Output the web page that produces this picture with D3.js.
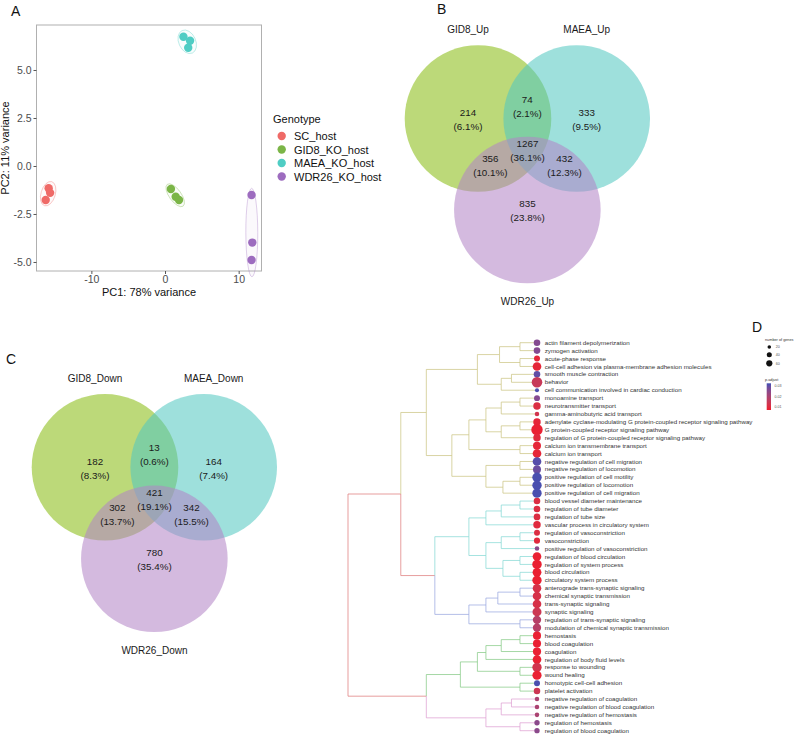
<!DOCTYPE html>
<html>
<head>
<meta charset="utf-8">
<script src="https://cdnjs.cloudflare.com/ajax/libs/d3/7.8.5/d3.min.js"></script>
<style>
	body { margin: 0; background: #fff; }
	svg { font-family: "Liberation Sans", Arial, sans-serif; }
</style>
</head>
<body>
<svg id="fig" width="800" height="736"></svg>
<script>

// ---- panel A : PCA ----
var pcaGroups   = ['SC_host', 'GID8_KO_host', 'MAEA_KO_host', 'WDR26_KO_host'];
var pcaColors   = ['#ef6a67', '#7bb547', '#4fcdc4', '#9d6cbf'];
var sampleGroup = [0, 0, 0, 1, 1, 1, 2, 2, 2, 3, 3, 3];
var samplePC1   = [-15.8, -15.6, -16.2, 0.8, 1.45, 1.9, 2.5, 3.4, 3.15, 11.75, 11.85, 11.75];
var samplePC2   = [-1.16, -1.4, -1.77, -1.2, -1.6, -1.77, 6.73, 6.52, 6.16, -1.51, -3.99, -4.9];
var pc1Ticks    = [-10, 0, 10];
var pc2Ticks    = [-5, -2.5, 0, 2.5, 5];

// ---- panels B, C : venn ----
// region order: first only, second only, third only, 1&2, 1&3, 2&3, all
var vennUpSets     = ['GID8_Up', 'MAEA_Up', 'WDR26_Up'];
var vennUpCounts   = [214, 333, 835, 74, 356, 432, 1267];
var vennDownSets   = ['GID8_Down', 'MAEA_Down', 'WDR26_Down'];
var vennDownCounts = [182, 164, 780, 13, 302, 342, 421];
var vennColors     = ['#88bc10', '#52c8c1', '#b284c6'];

// ---- panel D : GO tree ----
var goTerms = [
	'actin filament depolymerization', 'zymogen activation', 'acute-phase response',
	'cell-cell adhesion via plasma-membrane adhesion molecules', 'smooth muscle contraction', 'behavior',
	'cell communication involved in cardiac conduction', 'monoamine transport', 'neurotransmitter transport',
	'gamma-aminobutyric acid transport', 'adenylate cyclase-modulating G protein-coupled receptor signaling pathway',
	'G protein-coupled receptor signaling pathway', 'regulation of G protein-coupled receptor signaling pathway',
	'calcium ion transmembrane transport', 'calcium ion transport', 'negative regulation of cell migration',
	'negative regulation of locomotion', 'positive regulation of cell motility', 'positive regulation of locomotion',
	'positive regulation of cell migration', 'blood vessel diameter maintenance', 'regulation of tube diameter',
	'regulation of tube size', 'vascular process in circulatory system', 'regulation of vasoconstriction',
	'vasoconstriction', 'positive regulation of vasoconstriction', 'regulation of blood circulation',
	'regulation of system process', 'blood circulation', 'circulatory system process',
	'anterograde trans-synaptic signaling', 'chemical synaptic transmission', 'trans-synaptic signaling',
	'synaptic signaling', 'regulation of trans-synaptic signaling', 'modulation of chemical synaptic transmission',
	'hemostasis', 'blood coagulation', 'coagulation', 'regulation of body fluid levels', 'response to wounding',
	'wound healing', 'homotypic cell-cell adhesion', 'platelet activation', 'negative regulation of coagulation',
	'negative regulation of blood coagulation', 'negative regulation of hemostasis', 'regulation of hemostasis',
	'regulation of blood coagulation'
];
var goCount = [29, 29, 24, 50, 29, 75, 11, 24, 37, 14, 37, 87, 37, 43, 50, 50, 43, 59, 59, 58,
	29, 29, 30, 37, 24, 25, 14, 50, 60, 52, 58, 49, 49, 50, 54, 47, 46, 44, 44, 45,
	50, 58, 56, 24, 28, 14, 14, 14, 19, 19];
var goPadj = [0.026, 0.026, 0.009, 0.009, 0.030, 0.015, 0.032, 0.026, 0.011, 0.013,
	0.009, 0.008, 0.010, 0.009, 0.009, 0.031, 0.029, 0.032, 0.032, 0.032,
	0.011, 0.011, 0.011, 0.010, 0.011, 0.010, 0.025, 0.008, 0.008, 0.008,
	0.008, 0.012, 0.012, 0.012, 0.014, 0.018, 0.018, 0.008, 0.008, 0.008,
	0.008, 0.013, 0.008, 0.032, 0.014, 0.020, 0.020, 0.020, 0.025, 0.025];
var goCluster = [0,0,0,0,0,0,0,0,0,0,0,0,0,0,0,0,0,0,0,0,
	1,1,1,1,1,1,1,1,1,1,1, 2,2,2,2,2,2, 3,3,3,3,3,3,3,3, 4,4,4,4,4];
// hclust style merges: negative = leaf number, positive = earlier merge
var mergeA = [-1, -3, 1, -5, 4, 3, -8, 7, -11, 9, 8, -14, 11, -16, -18, 15, 14, 13, 6,
	-21, 20, 21, -25, 23, -28, -30, 25, 24, 22, -32, 30, 31, -36, 32, 29, 19,
	-38, 37, 38, -42, 39, -44, 41, -46, 44, -49, 45, 43, 36];
var mergeB = [-2, -4, 2, -6, -7, 5, -9, -10, -12, -13, 10, -15, 12, -17, -19, -20, 16, 17, 18,
	-22, -23, -24, -26, -27, -29, -31, 26, 27, 28, -33, -34, -35, -37, 33, 34, 35,
	-39, -40, -41, -43, 40, -45, 42, -47, -48, -50, 46, 47, 48];
var mergeH = [1, 1, 2.2, 1.5, 2.1, 3.5, 1, 2.1, 1, 2.1, 3, 1, 4, 1, 1, 2, 3, 5, 6.5,
	1, 2.1, 3, 1, 2.1, 1, 1, 2, 3, 4, 1, 2.3, 3, 1, 4, 6, 8,
	1, 2.1, 3, 1, 3.5, 1, 4.5, 1.5, 2.1, 1, 3, 6.5, 11.1];
var treeColors = ['#c9c27c', '#80d7d3', '#94a3de', '#7fc77f', '#dc9bd0'];
var treeLinkColor = '#dc7474';
var sizeLegend = [20, 40, 60];
var padjTicks = [0.01, 0.02, 0.03];

var figure = (function() {

	var svg = d3.select('#fig');
	var hyphen = d3.formatLocale({ decimal: '.', thousands: ',', grouping: [3], currency: ['', ''], minus: '-' });

	var init = function() {
		svg.append('rect').attr('width', 800).attr('height', 736).attr('fill', '#fff');
		panelLetters();
		drawPca();
		drawVenn(vennUpSets, vennUpCounts, 478, 118.5);
		drawVenn(vennDownSets, vennDownCounts, 105, 467.3);
		drawTree();
	};

	var panelLetters = function() {
		var letters = [['A', 11, 16], ['B', 437, 14], ['C', 6, 364], ['D', 752, 332]];
		svg.selectAll('text.letter').data(letters).enter()
			.append('text').attr('class', 'letter')
			.attr('x', function(d) { return d[1]; })
			.attr('y', function(d) { return d[2]; })
			.attr('font-size', 14).attr('fill', '#111')
			.text(function(d) { return d[0]; });
	};

	var drawPca = function() {
		var x = d3.scaleLinear().domain([-17.45, 13.1]).range([36.5, 261.5]);
		var y = d3.scaleLinear().domain([-5.47, 7.344]).range([271, 25]);
		var g = svg.append('g');

		g.append('rect').attr('x', 36.5).attr('y', 25).attr('width', 225).attr('height', 246)
			.attr('fill', 'none').attr('stroke', '#b0b0b0').attr('stroke-width', 1);

		var xAxis = g.append('g').attr('transform', 'translate(0,271)')
			.call(d3.axisBottom(x).tickValues(pc1Ticks).tickSize(3).tickPadding(2).tickFormat(hyphen.format('d')));
		var yAxis = g.append('g').attr('transform', 'translate(36.5,0)')
			.call(d3.axisLeft(y).tickValues(pc2Ticks).tickSize(3).tickPadding(2).tickFormat(hyphen.format('.1f')));
		[xAxis, yAxis].forEach(function(a) {
			a.select('.domain').remove();
			a.selectAll('line').attr('stroke', '#555');
			a.selectAll('text').attr('font-size', 10.5).attr('fill', '#4d4d4d')
				.attr('font-family', '"Liberation Sans", Arial, sans-serif');
		});

		g.append('text').attr('x', 149).attr('y', 296).attr('text-anchor', 'middle')
			.attr('font-size', 11).attr('fill', '#111').text('PC1: 78% variance');
		g.append('text').attr('transform', 'translate(9,148) rotate(-90)').attr('text-anchor', 'middle')
			.attr('font-size', 11).attr('fill', '#111').text('PC2: 11% variance');

		// ellipses around each genotype, in pixel space
		pcaGroups.forEach(function(name, gi) {
			var pts = [];
			sampleGroup.forEach(function(s, i) {
				if (s === gi) pts.push([x(samplePC1[i]), y(samplePC2[i])]);
			});
			var mx = d3.mean(pts, function(p) { return p[0]; });
			var my = d3.mean(pts, function(p) { return p[1]; });
			var sxx = 0, syy = 0, sxy = 0;
			pts.forEach(function(p) {
				sxx += (p[0] - mx) * (p[0] - mx);
				syy += (p[1] - my) * (p[1] - my);
				sxy += (p[0] - mx) * (p[1] - my);
			});
			sxx /= pts.length - 1; syy /= pts.length - 1; sxy /= pts.length - 1;
			var tr = sxx + syy, det = sxx * syy - sxy * sxy;
			var disc = Math.sqrt(Math.max(tr * tr / 4 - det, 0));
			var l1 = tr / 2 + disc, l2 = Math.max(tr / 2 - disc, 0);
			var ang = Math.atan2(l1 - sxx, sxy) * 180 / Math.PI;
			if (Math.abs(sxy) < 1e-9) ang = sxx >= syy ? 0 : 90;
			g.append('ellipse')
				.attr('cx', mx).attr('cy', my)
				.attr('rx', 1.15 * Math.sqrt(l1) + 5.5).attr('ry', 1.15 * Math.sqrt(l2) + 5.5)
				.attr('transform', 'rotate(' + ang + ',' + mx + ',' + my + ')')
				.attr('fill', pcaColors[gi]).attr('fill-opacity', 0.04)
				.attr('stroke', pcaColors[gi]).attr('stroke-opacity', 0.55).attr('stroke-width', 0.6);
		});

		g.selectAll('circle.pt').data(sampleGroup).enter()
			.append('circle').attr('class', 'pt')
			.attr('cx', function(d, i) { return x(samplePC1[i]); })
			.attr('cy', function(d, i) { return y(samplePC2[i]); })
			.attr('r', 4.2)
			.attr('fill', function(d) { return pcaColors[d]; });

		var leg = svg.append('g');
		leg.append('text').attr('x', 273).attr('y', 123).attr('font-size', 11).attr('fill', '#111').text('Genotype');
		var items = leg.selectAll('g.item').data(pcaGroups).enter()
			.append('g').attr('class', 'item')
			.attr('transform', function(d, i) { return 'translate(0,' + (136 + i * 13.5) + ')'; });
		items.append('circle').attr('cx', 281.7).attr('r', 4.2)
			.attr('fill', function(d, i) { return pcaColors[i]; });
		items.append('text').attr('x', 294).attr('y', 4).attr('font-size', 11).attr('fill', '#111')
			.text(function(d) { return d; });
	};

	var drawVenn = function(sets, counts, ox, oy) {
		var r = 73.3;
		var centres = [[0, 0], [98.7, 0], [49.35, 91.5]];
		var labelPos = [[-10, -89], [108.7, -89], [49.5, 183]];
		var regionPos = [[-10, -6], [108.7, -6], [49.5, 85], [49.3, -19.5], [12.3, 39.7], [86.5, 39.7], [49.5, 25]];
		var total = d3.sum(counts);
		var g = svg.append('g').attr('transform', 'translate(' + ox + ',' + oy + ')');

		g.selectAll('circle').data(sets).enter()
			.append('circle')
			.attr('cx', function(d, i) { return centres[i][0]; })
			.attr('cy', function(d, i) { return centres[i][1]; })
			.attr('r', r)
			.attr('fill', function(d, i) { return vennColors[i]; })
			.attr('fill-opacity', 0.56);

		g.selectAll('text.set').data(sets).enter()
			.append('text').attr('class', 'set')
			.attr('x', function(d, i) { return labelPos[i][0]; })
			.attr('y', function(d, i) { return labelPos[i][1] + 3.5; })
			.attr('text-anchor', 'middle').attr('font-size', 10).attr('fill', '#1a1a1a')
			.text(function(d) { return d; });

		var reg = g.selectAll('g.reg').data(counts).enter()
			.append('g').attr('class', 'reg')
			.attr('transform', function(d, i) { return 'translate(' + regionPos[i][0] + ',' + regionPos[i][1] + ')'; });
		reg.append('text').attr('y', 3.5).attr('text-anchor', 'middle').attr('font-size', 9.8).attr('fill', '#1a1a1a')
			.text(function(d) { return d; });
		reg.append('text').attr('y', 17.5).attr('text-anchor', 'middle').attr('font-size', 9.8).attr('fill', '#1a1a1a')
			.text(function(d) { return '(' + (d / total * 100).toFixed(1) + '%)'; });
	};

	var drawTree = function() {
		var built = [];
		var kid = function(v) { return v < 0 ? { leaf: -v - 1, h: 0 } : built[v - 1]; };
		mergeA.forEach(function(a, k) {
			built.push({ h: mergeH[k], children: [kid(a), kid(mergeB[k])] });
		});
		var root = d3.hierarchy(built[built.length - 1]);

		var x = d3.scaleLinear().domain([d3.max(mergeH), 0]).range([348, 537]);
		var y = d3.scaleLinear().domain([0, goTerms.length - 1]).range([342.7, 730.7]);
		var r = d3.scaleSqrt().domain([0, 90]).range([0, 5.8]);
		var padjDomain = [0.0072, 0.0327];
		var color = d3.scaleLinear().domain(padjDomain).range(['#ee1c2e', '#3f4fb3']).interpolate(d3.interpolateLab);

		root.eachAfter(function(n) {
			n.px = x(n.data.h);
			if (n.children) {
				n.py = d3.mean(n.children, function(c) { return c.py; });
				var cl = d3.union(n.children.map(function(c) { return c.cl; }));
				n.cl = cl.size === 1 && !cl.has(-1) ? n.children[0].cl : -1;
			} else {
				n.py = y(n.data.leaf);
				n.cl = goCluster[n.data.leaf];
			}
		});

		var g = svg.append('g');
		g.selectAll('path.edge').data(root.descendants().slice(1)).enter()
			.append('path').attr('class', 'edge')
			.attr('d', function(n) { return 'M' + n.parent.px + ',' + n.parent.py + 'V' + n.py + 'H' + n.px; })
			.attr('fill', 'none')
			.attr('stroke', function(n) { return n.cl < 0 ? treeLinkColor : treeColors[n.cl]; })
			.attr('stroke-width', 0.7);

		var leaves = root.leaves();
		g.selectAll('circle.go').data(leaves).enter()
			.append('circle').attr('class', 'go')
			.attr('cx', function(n) { return n.px; })
			.attr('cy', function(n) { return n.py; })
			.attr('r', function(n) { return r(goCount[n.data.leaf]); })
			.attr('fill', function(n) { return color(goPadj[n.data.leaf]); });
		g.selectAll('text.go').data(leaves).enter()
			.append('text').attr('class', 'go')
			.attr('x', 544.7)
			.attr('y', function(n) { return n.py + 2.1; })
			.attr('font-size', 6.2).attr('fill', '#333')
			.text(function(n) { return goTerms[n.data.leaf]; });

		// size legend
		var lr = d3.scaleSqrt().domain([0, 60]).range([0, 3.1]);
		var lg = svg.append('g');
		lg.append('text').attr('x', 765).attr('y', 341.3).attr('font-size', 3.8).attr('fill', '#333').text('number of genes');
		var si = lg.selectAll('g.sz').data(sizeLegend).enter().append('g').attr('class', 'sz')
			.attr('transform', function(d, i) { return 'translate(769.3,' + [347, 354.7, 363.3][i] + ')'; });
		si.append('circle').attr('r', function(d) { return lr(d); }).attr('fill', '#111');
		si.append('text').attr('x', 6.5).attr('y', 1.3).attr('font-size', 3.6).attr('fill', '#555').text(function(d) { return d; });

		// colour bar
		var barY = d3.scaleLinear().domain(padjDomain).range([410, 383.3]);
		var grad = svg.append('defs').append('linearGradient').attr('id', 'padj')
			.attr('x1', 0).attr('y1', 1).attr('x2', 0).attr('y2', 0);
		d3.range(0, 1.01, 0.1).forEach(function(t) {
			grad.append('stop').attr('offset', t)
				.attr('stop-color', color(padjDomain[0] + t * (padjDomain[1] - padjDomain[0])));
		});
		lg.append('text').attr('x', 765).attr('y', 380.5).attr('font-size', 3.8).attr('fill', '#333').text('p.adjust');
		lg.append('rect').attr('x', 766.7).attr('y', 383.3).attr('width', 4.3).attr('height', 26.7).attr('fill', 'url(#padj)');
		lg.selectAll('text.pt').data(padjTicks).enter().append('text').attr('class', 'pt')
			.attr('x', 774.5).attr('y', function(d) { return barY(d) + 1.3; })
			.attr('font-size', 3.6).attr('fill', '#555').text(function(d) { return d.toFixed(2); });
	};

	return {
		'init': init
	};

})();

figure.init();
</script>
</body>
</html>
